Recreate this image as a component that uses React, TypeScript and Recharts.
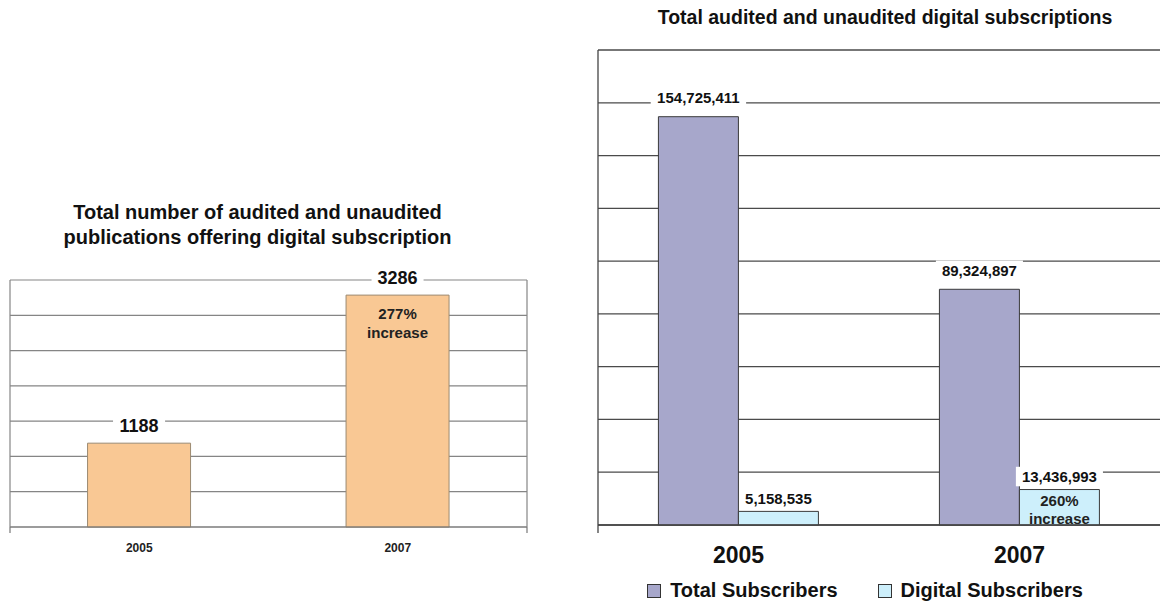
import React from "react";
import { BarChart, Bar, XAxis, YAxis, CartesianGrid, LabelList, Legend } from "recharts";

// left chart: publications offering digital subscription
const pubYears = ["2005", "2007"];
const pubCounts = [1188, 3286];
const pubNotes = ["", "277% increase"];
const pubTicks = [0, 500, 1000, 1500, 2000, 2500, 3000, 3500];

// right chart: subscribers
const subYears = ["2005", "2007"];
const seriesNames = ["Total Subscribers", "Digital Subscribers"];
const totalSubscribers = [154725411, 89324897];
const digitalSubscribers = [5158535, 13436993];
const digitalNotes = ["", "260% increase"];
const subTicks = [0, 20e6, 40e6, 60e6, 80e6, 100e6, 120e6, 140e6, 160e6, 180e6];

// boundaries between the two categories, for the small marks under the baseline
const frameTicks = [0, 1, 2];

const pubData = pubYears.map((year, i) => ({ year, count: pubCounts[i], note: pubNotes[i] }));
const subData = subYears.map((year, i) => ({
  year,
  total: totalSubscribers[i],
  digital: digitalSubscribers[i],
  note: digitalNotes[i],
}));

const FONT = '"Liberation Sans", Arial, Helvetica, sans-serif';
const blank = () => "";

function textWidth(s: string, size: number) {
  let w = 0;
  for (const c of s) w += c === "," || c === "." ? 0.278 : /[0-9]/.test(c) ? 0.556 : 0.6;
  return w * size;
}

// value above the bar, on a white patch so gridlines break around it
function ValueTag(props: any) {
  const { x, y, width, value, lift, size, comma } = props;
  const text = comma ? Number(value).toLocaleString("en-US") : String(value);
  const cx = Number(x) + Number(width) / 2;
  const cy = Number(y) - lift;
  const w = textWidth(text, size) + 12;
  return (
    <g>
      <rect x={cx - w / 2} y={cy - size * 0.65} width={w} height={size * 1.3} fill="#fff" />
      <text
        x={cx}
        y={cy}
        textAnchor="middle"
        dominantBaseline="central"
        fontFamily={FONT}
        fontWeight={700}
        fontSize={size}
        fill="#111"
      >
        {text}
      </text>
    </g>
  );
}

// "xxx% increase" written inside the top of a bar
function NoteTag(props: any) {
  const { x, y, width, value, first, size, step } = props;
  if (!value) return null;
  const cx = Number(x) + Number(width) / 2;
  const lines = String(value).split(" ");
  return (
    <text textAnchor="middle" fontFamily={FONT} fontWeight={700} fontSize={size} fill="#222">
      {lines.map((l, i) => (
        <tspan key={i} x={cx} y={Number(y) + first + i * step} dominantBaseline="central">
          {l}
        </tspan>
      ))}
    </text>
  );
}

function SubLegend({ payload }: any) {
  return (
    <div
      style={{
        display: "flex",
        justifyContent: "center",
        gap: 40,
        fontFamily: FONT,
        fontWeight: 700,
        fontSize: 20,
        color: "#111",
      }}
    >
      {(payload || []).map((item: any) => (
        <span key={item.value} style={{ display: "flex", alignItems: "center", gap: 9 }}>
          <span
            style={{
              width: 12,
              height: 12,
              background: item.color,
              border: "1px solid #333",
              display: "inline-block",
            }}
          />
          {item.value}
        </span>
      ))}
    </div>
  );
}

export default function App() {
  return (
    <div style={{ position: "absolute", left: 0, top: 0, width: 1160, height: 602, background: "#fff", overflow: "hidden" }}>
      <div
        style={{
          position: "absolute",
          left: 0,
          top: 200,
          width: 515,
          textAlign: "center",
          fontFamily: FONT,
          fontWeight: 700,
          fontSize: 20,
          lineHeight: "25px",
          color: "#111",
        }}
      >
        Total number of audited and unaudited
        <br />
        publications offering digital subscription
      </div>
      <div
        style={{
          position: "absolute",
          left: 610,
          top: 5,
          width: 550,
          textAlign: "center",
          fontFamily: FONT,
          fontWeight: 700,
          fontSize: 19.5,
          lineHeight: "24px",
          color: "#111",
        }}
      >
        Total audited and unaudited digital subscriptions
      </div>

      <div style={{ position: "absolute", left: 0, top: 260 }}>
        <BarChart
          width={540}
          height={320}
          data={pubData}
          margin={{ top: 20, right: 12, left: 9, bottom: 22 }}
          barCategoryGap="30%"
        >
          <CartesianGrid vertical={false} yAxisId="l" xAxisId="cat" stroke="#858585" strokeWidth={1.2} />
          <XAxis
            xAxisId="base"
            type="number"
            domain={[0, 2]}
            ticks={frameTicks}
            tickFormatter={blank}
            height={1}
            tickSize={6}
            stroke="#777"
            strokeWidth={1.2}
          />
          <XAxis
            xAxisId="cat"
            dataKey="year"
            height={30}
            axisLine={false}
            tickLine={false}
            tickSize={0}
            tickMargin={15}
            tick={{ fontFamily: FONT, fontWeight: 700, fontSize: 12, fill: "#222" }}
          />
          <YAxis
            yAxisId="l"
            domain={[0, 3500]}
            ticks={pubTicks}
            width={1}
            tickFormatter={blank}
            tickLine={false}
            stroke="#858585"
            strokeWidth={1.2}
          />
          <YAxis
            yAxisId="r"
            orientation="right"
            domain={[0, 3500]}
            ticks={pubTicks}
            width={1}
            tickFormatter={blank}
            tickLine={false}
            stroke="#858585"
            strokeWidth={1.2}
          />
          <Bar
            dataKey="count"
            xAxisId="cat"
            yAxisId="l"
            fill="#F9C894"
            stroke="#9c8a72"
            strokeWidth={1}
            isAnimationActive={false}
          >
            <LabelList dataKey="count" content={(p: any) => <ValueTag {...p} lift={17} size={18} />} />
            <LabelList dataKey="note" content={(p: any) => <NoteTag {...p} first={18} step={19} size={15} />} />
          </Bar>
        </BarChart>
      </div>

      <div style={{ position: "absolute", left: 590, top: 30 }}>
        <BarChart
          width={570}
          height={572}
          data={subData}
          margin={{ top: 20, right: 0, left: 7, bottom: 30 }}
          barCategoryGap="21.5%"
          barGap={0}
        >
          <CartesianGrid vertical={false} yAxisId="l" xAxisId="cat" stroke="#4a4a4a" strokeWidth={1.3} />
          <XAxis
            xAxisId="base"
            type="number"
            domain={[0, 2]}
            ticks={frameTicks}
            tickFormatter={blank}
            height={1}
            tickSize={8}
            stroke="#444"
            strokeWidth={1.3}
          />
          <XAxis
            xAxisId="cat"
            dataKey="year"
            height={46}
            axisLine={false}
            tickLine={false}
            tickSize={0}
            tickMargin={21}
            tick={{ fontFamily: FONT, fontWeight: 700, fontSize: 23, fill: "#111" }}
          />
          <YAxis
            yAxisId="l"
            domain={[0, 180e6]}
            ticks={subTicks}
            width={1}
            tickFormatter={blank}
            tickLine={false}
            stroke="#444"
            strokeWidth={1.3}
          />
          <Legend
            layout="horizontal"
            verticalAlign="middle"
            align="center"
            itemSorter={(item: any) => seriesNames.indexOf(item.value)}
            wrapperStyle={{ top: 549, left: 0, width: 550 }}
            content={<SubLegend />}
          />
          <Bar
            dataKey="total"
            name={seriesNames[0]}
            xAxisId="cat"
            yAxisId="l"
            fill="#A7A7CB"
            stroke="#3a3a3a"
            strokeWidth={1}
            isAnimationActive={false}
          >
            <LabelList dataKey="total" content={(p: any) => <ValueTag {...p} lift={19} size={15} comma />} />
          </Bar>
          <Bar
            dataKey="digital"
            name={seriesNames[1]}
            xAxisId="cat"
            yAxisId="l"
            fill="#CDEFFB"
            stroke="#3a3a3a"
            strokeWidth={1}
            isAnimationActive={false}
          >
            <LabelList dataKey="digital" content={(p: any) => <ValueTag {...p} lift={13} size={15} comma />} />
            <LabelList dataKey="note" content={(p: any) => <NoteTag {...p} first={11} step={18} size={15} />} />
          </Bar>
        </BarChart>
      </div>
    </div>
  );
}
